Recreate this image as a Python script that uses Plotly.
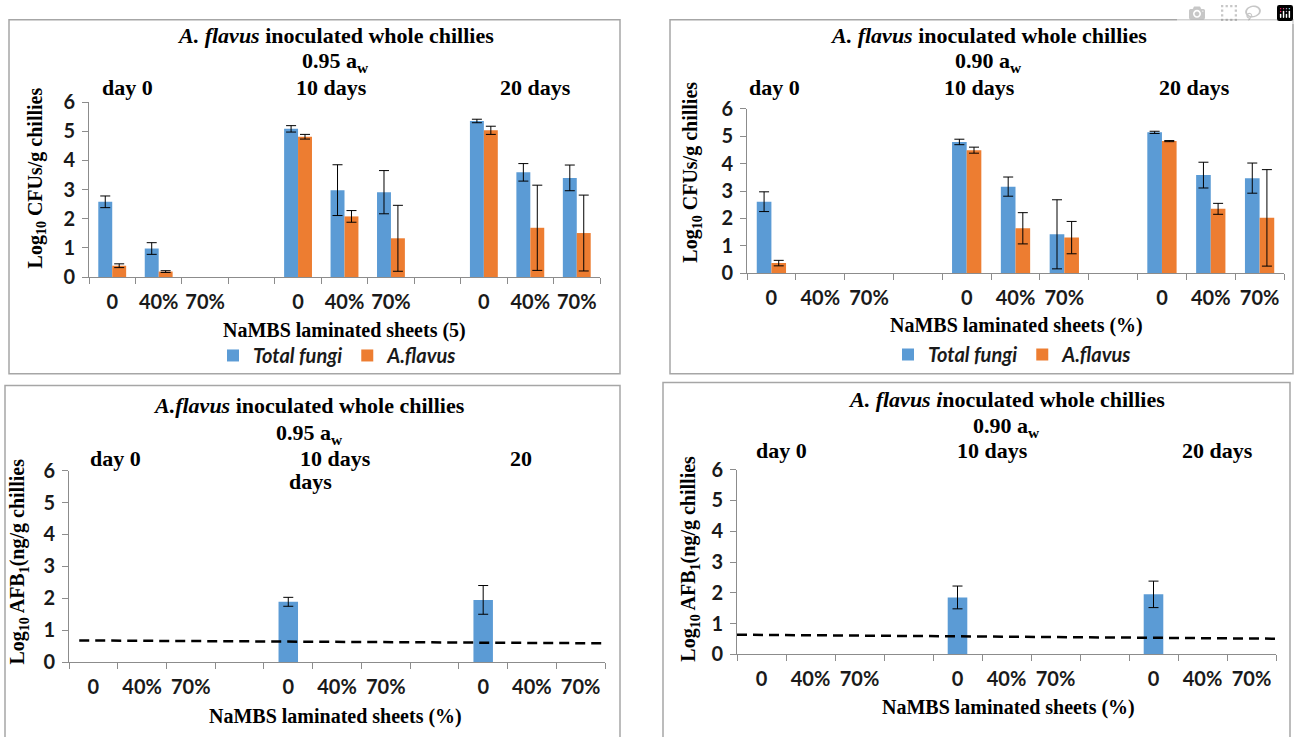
import plotly.graph_objects as go

W, H = 1299, 737

# ---------------- data ----------------
levels = ["0", "40%", "70%"]          # NaMBS laminated sheet levels
periods = ["day 0", "10 days", "20 days"]
series_names = ["Total fungi", "A.flavus"]

# Top-left: 0.95 aw, Log10 CFUs/g chillies (None = nothing detected / no bar)
tl_total = [2.58, 0.98, None, 5.08, 2.98, 2.91, 5.35, 3.59, 3.40]
tl_total_err = [0.20, 0.20, None, 0.11, 0.87, 0.74, 0.06, 0.30, 0.44]
tl_flavus = [0.39, 0.19, None, 4.81, 2.08, 1.33, 5.03, 1.69, 1.51]
tl_flavus_err = [0.065, 0.03, None, 0.08, 0.20, 1.13, 0.14, 1.46, 1.30]

# Top-right: 0.90 aw, Log10 CFUs/g chillies
tr_total = [2.61, None, None, 4.79, 3.16, 1.42, 5.14, 3.58, 3.47]
tr_total_err = [0.36, None, None, 0.10, 0.35, 1.26, 0.04, 0.47, 0.55]
tr_flavus = [0.37, None, None, 4.49, 1.64, 1.30, 4.82, 2.35, 2.02]
tr_flavus_err = [0.10, None, None, 0.11, 0.57, 0.59, 0.02, 0.20, 1.76]

# Bottom-left: 0.95 aw, Log10 AFB1 (ng/g chillies)
bl_afb1 = [None, None, None, 1.89, None, None, 1.95, None, None]
bl_afb1_err = [None, None, None, 0.14, None, None, 0.45, None, None]
bl_lod_x = [-0.29, 10.5]
bl_lod_y = [0.68, 0.59]

# Bottom-right: 0.90 aw, Log10 AFB1 (ng/g chillies)
br_afb1 = [None, None, None, 1.85, None, None, 1.95, None, None]
br_afb1_err = [None, None, None, 0.37, None, None, 0.43, None, None]
br_lod_x = [-0.5, 10.5]
br_lod_y = [0.64, 0.51]

# ---------------- styles ----------------
BLUE = "#5B9BD5"
ORANGE = "#ED7D31"
AX = "#8c8c8c"
FRAME = "#a6a6a6"
SERIF = "Liberation Serif"
SANS = "Lato"
TXT = "#1a1a1a"

# category slots: 3 levels per period, one blank slot between periods
x_pos = [g * 4 + i for g in range(len(periods)) for i in range(len(levels))]
tick_text = levels * len(periods)
bounds = [i - 0.5 for i in range(12)]


def px(x):
    return x / W


def py(y):
    return 1 - y / H


def err(arr):
    return dict(type="data", array=arr, color="black", thickness=1, width=5, visible=True)


fig = go.Figure()

bar_line = dict(width=0)
# top-left
fig.add_trace(go.Bar(x=x_pos, y=tl_total, error_y=err(tl_total_err), marker=dict(color=BLUE, line=bar_line),
                     name=series_names[0], xaxis="x", yaxis="y", legend="legend"))
fig.add_trace(go.Bar(x=x_pos, y=tl_flavus, error_y=err(tl_flavus_err), marker=dict(color=ORANGE, line=bar_line),
                     name=series_names[1], xaxis="x", yaxis="y", legend="legend"))
# top-right
fig.add_trace(go.Bar(x=x_pos, y=tr_total, error_y=err(tr_total_err), marker=dict(color=BLUE, line=bar_line),
                     name=series_names[0], xaxis="x2", yaxis="y2", legend="legend2"))
fig.add_trace(go.Bar(x=x_pos, y=tr_flavus, error_y=err(tr_flavus_err), marker=dict(color=ORANGE, line=bar_line),
                     name=series_names[1], xaxis="x2", yaxis="y2", legend="legend2"))
# bottom-left
fig.add_trace(go.Bar(x=x_pos, y=bl_afb1, error_y=err(bl_afb1_err), marker=dict(color=BLUE, line=bar_line),
                     width=0.4, offset=-0.2, showlegend=False, xaxis="x3", yaxis="y3"))
fig.add_trace(go.Scatter(x=bl_lod_x, y=bl_lod_y, mode="lines", showlegend=False,
                         line=dict(color="black", width=2.5, dash="10px,6px"),
                         xaxis="x3", yaxis="y3"))
# bottom-right
fig.add_trace(go.Bar(x=x_pos, y=br_afb1, error_y=err(br_afb1_err), marker=dict(color=BLUE, line=bar_line),
                     width=0.4, offset=-0.2, showlegend=False, xaxis="x4", yaxis="y4"))
fig.add_trace(go.Scatter(x=br_lod_x, y=br_lod_y, mode="lines", showlegend=False,
                         line=dict(color="black", width=2.5, dash="10px,6px"),
                         xaxis="x4", yaxis="y4"))

tick_font = dict(family=SANS, size=20, color=TXT, weight="bold")


def xaxis(dom, anchor):
    return dict(domain=dom, anchor=anchor, range=[-0.5, 10.5], showline=True, linecolor=AX,
                linewidth=1, ticks="", tickmode="array", tickvals=x_pos, ticktext=tick_text,
                tickfont=tick_font, ticklabelstandoff=7, showgrid=False, zeroline=False,
                fixedrange=True,
                minor=dict(tickvals=bounds, ticks="outside", ticklen=6, tickcolor=AX,
                           tickwidth=1, showgrid=False))


def yaxis(dom, anchor):
    return dict(domain=dom, anchor=anchor, range=[0, 6], tick0=0, dtick=1, showline=True,
                linecolor=AX, linewidth=1, ticks="outside", ticklen=6, tickcolor=AX,
                tickfont=tick_font, ticklabelstandoff=3,
                showgrid=False, zeroline=False, fixedrange=True)


# panel geometry (pixels): x-axis start/end, y of value 0 / value 6
panels = {
    "1": (89, 600, 273, 92),
    "2": (747, 1284, 269, 99),
    "3": (69, 605, 671, 473),
    "4": (737, 1276, 663, 472),
}
lay = {}
for k, (x0, x1, yb, yt) in panels.items():
    sfx = "" if k == "1" else k
    lay["xaxis" + sfx] = xaxis([px(x0), px(x1)], "y" + sfx)
    lay["yaxis" + sfx] = yaxis([py(yb), py(yt)], "x" + sfx)

title_font = dict(family=SERIF, size=22, color="black", weight="bold")
axt_font = dict(family=SERIF, size=20, color="black", weight="bold")
ann = []


def A(text, x, y, font=title_font, angle=0):
    ann.append(dict(text=text, x=px(x), y=py(y), xref="paper", yref="paper", showarrow=False,
                    xanchor="center", yanchor="middle", font=font, textangle=angle))


# top-left texts
A("<i>A. flavus</i> inoculated whole chillies", 335, 23)
A("0.95 a<sub>w</sub>", 335, 51)
A(periods[0], 127, 77)
A(periods[1], 331, 77)
A(periods[2], 535, 77)
A("NaMBS laminated sheets (5)", 344, 328, axt_font)
A("Log<sub>10</sub> CFUs/g chillies", 36, 171, axt_font, -90)
# top-right texts
A("<i>A. flavus</i> inoculated whole chillies", 988, 23)
A("0.90 a<sub>w</sub>", 988, 51)
A(periods[0], 774, 77)
A(periods[1], 979, 77)
A(periods[2], 1194, 77)
A("NaMBS laminated sheets (%)", 1016, 323, axt_font)
A("Log<sub>10</sub> CFUs/g chillies", 692, 165, axt_font, -90)
# bottom-left texts
A("<i>A.flavus</i> inoculated whole chillies", 309, 406)
A("0.95 a<sub>w</sub>", 309, 435)
A(periods[0], 115, 460)
A(periods[1], 335, 460)
A("days", 310, 484)
A("20", 521, 460)
A("NaMBS laminated sheets (%)", 335, 727, axt_font)
A("Log<sub>10</sub> AFB<sub>1</sub>(ng/g chillies", 19, 567, axt_font, -90)
# bottom-right texts
A("<i>A. flavus i</i>noculated whole chillies", 1006, 399)
A("0.90 a<sub>w</sub>", 1006, 428)
A(periods[0], 781, 452)
A(periods[1], 992, 452)
A(periods[2], 1217, 452)
A("NaMBS laminated sheets (%)", 1008, 718, axt_font)
A("Log<sub>10</sub> AFB<sub>1</sub>(ng/g chillies", 690, 564, axt_font, -90)

frames = [(9, 7, 620, 373), (670, 7, 1293, 373), (5, 385, 620, 760), (663, 382, 1290, 760)]
shapes = [dict(type="rect", xref="paper", yref="paper", x0=px(a), x1=px(c), y0=py(b), y1=py(d),
               line=dict(color=FRAME, width=1.5), fillcolor="rgba(0,0,0,0)", layer="below")
          for a, b, c, d in frames]

leg_font = dict(family=SANS, size=20, color=TXT, style="italic", weight="bold")
fig.update_layout(
    width=W, height=H, autosize=False,
    margin=dict(l=0, r=0, t=0, b=0),
    paper_bgcolor="white", plot_bgcolor="rgba(0,0,0,0)",
    barmode="group", bargap=0.4, bargroupgap=0,
    annotations=ann, shapes=shapes,
    legend=dict(orientation="h", x=px(213), y=py(354), xanchor="left", yanchor="middle",
                font=leg_font, bgcolor="rgba(0,0,0,0)", itemwidth=30),
    legend2=dict(orientation="h", x=px(888), y=py(353), xanchor="left", yanchor="middle",
                 font=leg_font, bgcolor="rgba(0,0,0,0)", itemwidth=30),
    **lay,
)

fig.write_html("out.html", post_script="document.body.style.margin='0';document.body.style.overflow='hidden';")
